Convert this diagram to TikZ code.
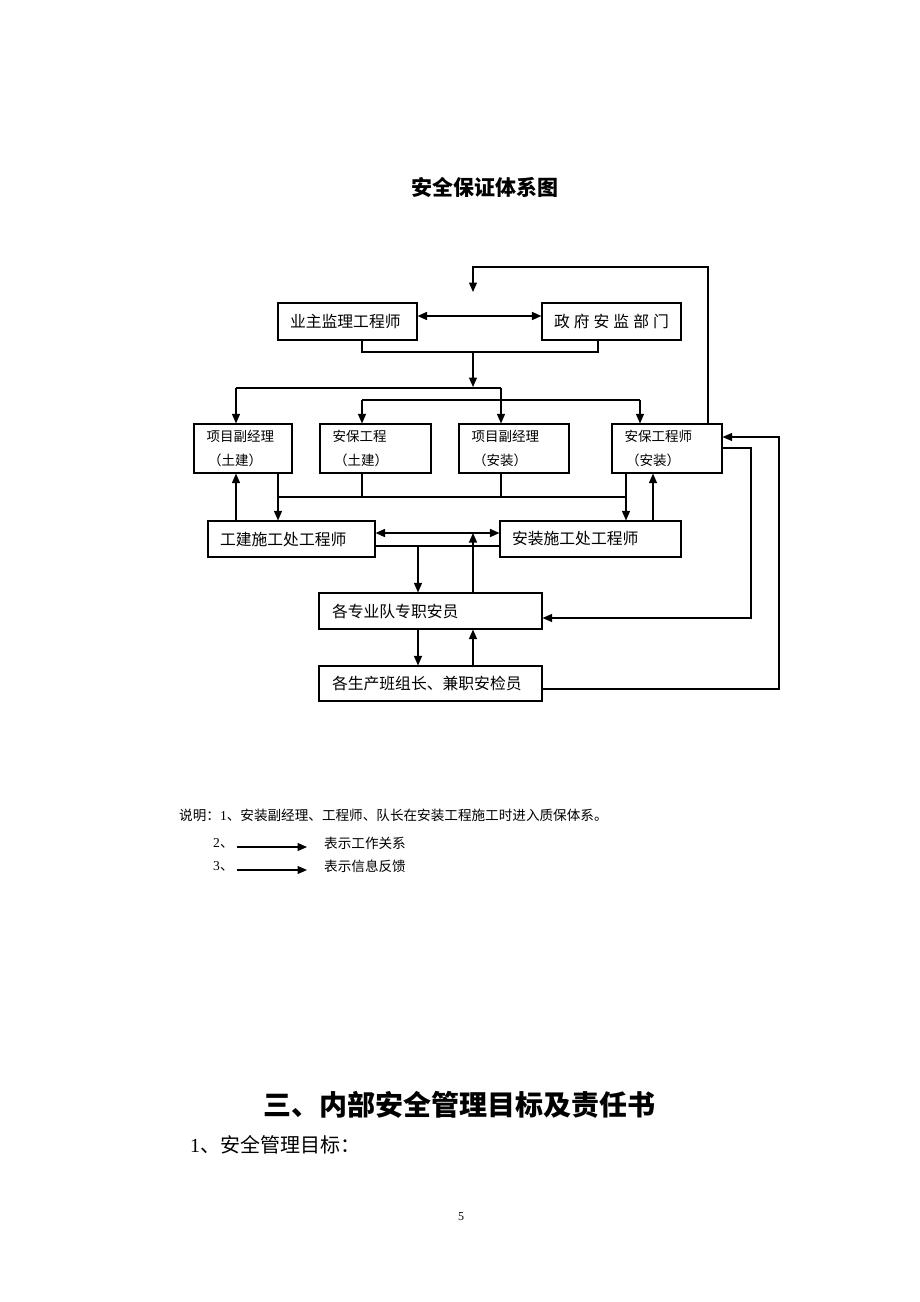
\documentclass[tikz,border=0pt]{standalone}
\usepackage{fontspec}
\setmainfont{Liberation Serif}
\newfontfamily\cjk{Noto Sans CJK SC}
\usetikzlibrary{arrows.meta}
\begin{document}
\begin{tikzpicture}[x=1pt,y=-1pt,
  ln/.style={line width=1.1pt},
  arr/.style={line width=1.2pt,-{Triangle[length=9.5pt,width=8pt]}},
  darr/.style={line width=1.6pt,{Triangle[length=9.5pt,width=8pt]}-{Triangle[length=9.5pt,width=8pt]}},
  bigbox/.style={draw,line width=1.1pt,inner ysep=0pt,inner xsep=12pt,align=left,
    font=\cjk\fontsize{15.8}{18}\selectfont},
  smallbox/.style={draw,line width=1.1pt,inner ysep=0pt,inner xsep=12.5pt,align=left,
    minimum height=49pt,font=\cjk\fontsize{13.5}{24}\selectfont},
  txt/.style={inner sep=0pt,font=\cjk\fontsize{13.6}{16}\selectfont}]
\useasboundingbox[fill=white] (0,0) rectangle (920,1302);

% title
\node[inner sep=0pt,font=\cjk\bfseries\fontsize{21}{24}\selectfont] (title) at (485,187) {安全保证体系图};

% boxes
\node[bigbox,text width=115pt,minimum height=37pt] (A) at (347.5,321.5) {业主监理工程师};
\node[draw,line width=1.1pt,inner sep=0pt,minimum width=139pt,minimum height=37pt,
  font=\cjk\fontsize{15.8}{18}\selectfont] (B) at (611.5,321.5) {政\hspace{4pt}府\hspace{4pt}安\hspace{4pt}监\hspace{4pt}部\hspace{4pt}门};
\node[smallbox,text width=73pt] (b1) at (243,448.5) {项目副经理\\\hspace{1.5pt}（土建）};
\node[smallbox,text width=86pt] (b2) at (375.5,448.5) {安保工程\\\hspace{1.5pt}（土建）};
\node[smallbox,text width=85pt] (b3) at (514,448.5) {项目副经理\\\hspace{1.5pt}（安装）};
\node[smallbox,text width=85pt] (b4) at (667,448.5) {安保工程师\\\hspace{1.5pt}（安装）};
\node[bigbox,text width=143pt,minimum height=36pt] (C) at (291.5,539) {工建施工处工程师};
\node[bigbox,text width=157pt,minimum height=36pt] (D) at (590.5,539) {安装施工处工程师};
\node[bigbox,inner xsep=13pt,text width=197pt,minimum height=36pt] (E) at (430.5,611) {各专业队专职安员};
\node[bigbox,inner xsep=13pt,text width=197pt,minimum height=35pt] (F) at (430.5,683.5) {各生产班组长、兼职安检员};

% helper coordinates
\coordinate (t1) at (708,267);
\coordinate (t2) at (473,292);
\coordinate (yAB) at (0,316);
\coordinate (k1) at (362,352);
\coordinate (k2) at (598,352);
\coordinate (k3) at (473,352);
\coordinate (k4) at (473,387);
\coordinate (j1) at (236,388);
\coordinate (j2) at (501,388);
\coordinate (m1) at (362,400);
\coordinate (m2) at (640,400);
\coordinate (n1) at (278,497);
\coordinate (n2) at (626,497);
\coordinate (u1) at (236,0);
\coordinate (u2) at (653,0);
\coordinate (yCD) at (0,533);
\coordinate (q1) at (418,546);
\coordinate (q2) at (473,533);
\coordinate (r1) at (751,448);
\coordinate (r2) at (751,618);
\coordinate (s1) at (779,689);
\coordinate (s2) at (779,437);

% top feedback loop
\draw[arr] (b4.north -| t1) -- (t1) -| (t2);
% A <-> B
\draw[darr] (A.east |- yAB) -- (B.west |- yAB);
% bracket under A and B
\draw[ln] (A.south -| k1) -- (k1) -- (k2) -- (B.south -| k2);
\draw[arr] (k3) -- (k4);
% distribution lines
\draw[ln] (j1) -- (j2);
\draw[arr] (j1) -- (b1.north -| j1);
\draw[arr] (j2) -- (b3.north -| j2);
\draw[ln] (m1) -- (m2);
\draw[arr] (m1) -- (b2.north -| m1);
\draw[arr] (m2) -- (b4.north -| m2);
% lower collection line
\draw[ln] (b2.south -| m1) -- (m1 |- n1);
\draw[ln] (b3.south -| j2) -- (j2 |- n1) ;
\draw[ln] (n1) -- (n2);
\draw[arr] (b1.south -| n1) -- (C.north -| n1);
\draw[arr] (b4.south -| n2) -- (D.north -| n2);
\draw[arr] (C.north -| u1) -- (b1.south -| u1);
\draw[arr] (D.north -| u2) -- (b4.south -| u2);
% C <-> D
\draw[darr] (C.east |- yCD) -- (D.west |- yCD);
\draw[ln] (C.east |- q1) -- (D.west |- q1);
\draw[arr] (q1) -- (E.north -| q1);
\draw[arr] (E.north -| q2) -- (q2);
% E <-> F
\draw[arr] (E.south -| q1) -- (F.north -| q1);
\draw[arr] (F.north -| q2) -- (E.south -| q2);
% right side loops
\draw[arr] (b4.east |- r1) -- (r1) -- (r2) -- (E.east |- r2);
\draw[arr] (F.east |- s1) -- (s1) -- (s2) -- (b4.east |- s2);

% legend
\node[txt,anchor=west] (note1) at (179,815) {说明：{\rmfamily 1}、安装副经理、工程师、队长在安装工程施工时进入质保体系。};
\node[txt,anchor=west] (n2l) at (213,843) {{\rmfamily 2}、};
\node[txt,anchor=west] (n2t) at (324,843) {表示工作关系};
\node[txt,anchor=west] (n3l) at (213,866) {{\rmfamily 3}、};
\node[txt,anchor=west] (n3t) at (324,866) {表示信息反馈};
\coordinate (la1) at (237,847);
\coordinate (la2) at (307,847);
\coordinate (lb1) at (237,870);
\coordinate (lb2) at (307,870);
\draw[arr] (la1) -- (la2);
\draw[arr] (lb1) -- (lb2);

% heading
\node[inner sep=0pt,font=\cjk\bfseries\fontsize{28}{32}\selectfont] (head) at (459,1105) {三、内部安全管理目标及责任书};
\node[inner sep=0pt,anchor=west,font=\cjk\fontsize{20}{24}\selectfont] (sub) at (190,1145) {{\rmfamily 1}、安全管理目标：};
\node[inner sep=0pt,font=\rmfamily\fontsize{12}{14}\selectfont] (page) at (461,1217) {5};
\end{tikzpicture}
\end{document}
